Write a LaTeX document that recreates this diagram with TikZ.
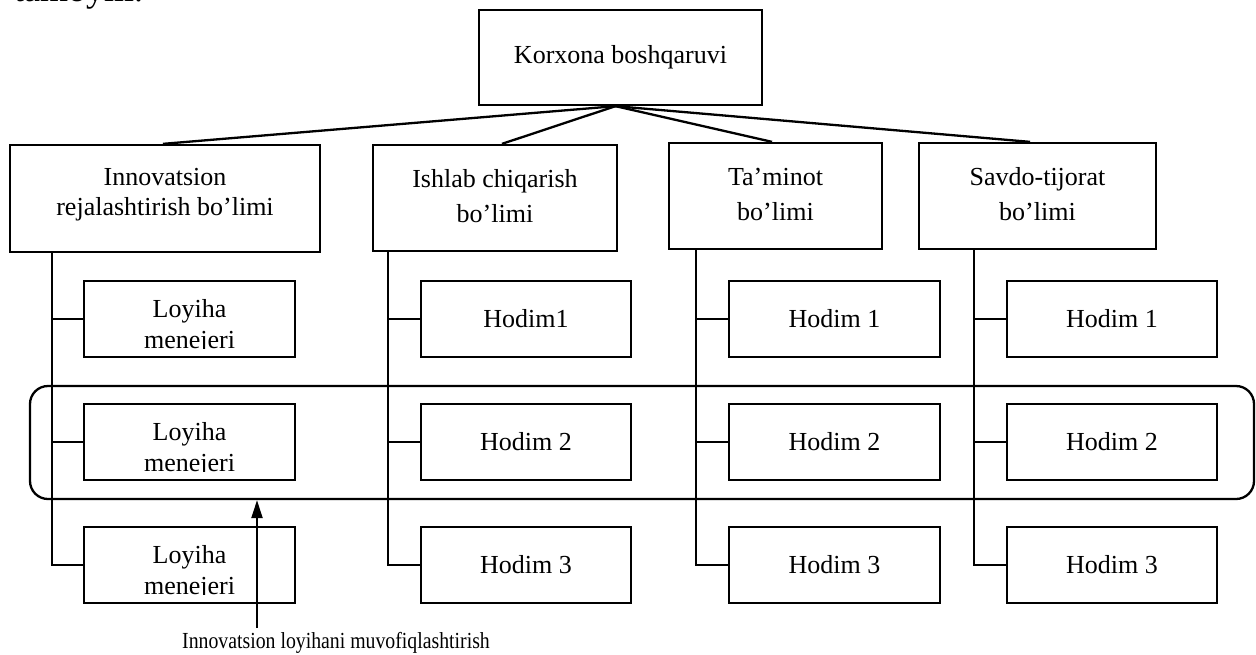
\documentclass[tikz,border=0pt]{standalone}
\usepackage{fontspec}
\setmainfont{Liberation Serif}
\usetikzlibrary{arrows.meta}
\begin{document}
\begin{tikzpicture}[x=1pt,y=-1pt,
  line width=2.3pt, line join=miter,
  box/.style={draw, rectangle, inner sep=0pt, align=center,
    font=\fontsize{26}{30}\selectfont},
  deptbox/.style={box, minimum height=106pt, font=\fontsize{26}{35}\selectfont},
  staff/.style={box, minimum height=76pt},
  mgrtext/.style={inner sep=0pt, anchor=north, align=center,
    font=\fontsize{26}{31}\selectfont},
  group/.style={draw, rectangle, rounded corners=18pt, inner sep=0pt},
  pointer/.style={-{Triangle[length=18pt,width=11pt]}}
]
\useasboundingbox (0,0) rectangle (1256,654);

% tail of the preceding line of text, cut by the page edge
\begin{scope}
  \clip (0,0) rectangle (1256,654);
  \node[anchor=base west, inner sep=0pt, font=\fontsize{36}{40}\selectfont] (prev) at (13,1) {tamoyili.};
\end{scope}

% management
\node[box, minimum width=283pt, minimum height=95pt] (top) at (620.5,57.5) {Korxona boshqaruvi};

% departments
\node[deptbox, minimum width=310pt, minimum height=107pt, font=\fontsize{26}{30}\selectfont]
  (d1) at (165,198.5) {\strut Innovatsion\\\strut rejalashtirish bo’limi\rule[-17pt]{0pt}{1pt}};
\node[deptbox, minimum width=244pt] (d2) at (495,198) {\strut Ishlab chiqarish\\\strut bo’limi};
\node[deptbox, minimum width=213pt] (d3) at (775.5,196) {\strut Ta’minot\\\strut bo’limi};
\node[deptbox, minimum width=237pt] (d4) at (1037.5,196) {\strut Savdo-tijorat\\\strut bo’limi};

% links from management to departments
\coordinate (apex) at ([xshift=-5pt]top.south);
\draw (apex) -- ([xshift=-2pt]d1.north);
\draw (apex) -- ([xshift=7pt]d2.north);
\draw (apex) -- ([xshift=-3.5pt]d3.north);
\draw (apex) -- ([xshift=-7.5pt]d4.north);

% coordination group around the second row
\node[group, minimum width=1224pt, minimum height=113pt] (grp) at (642,442.5) {};

% project managers (text cut at the lower part of each box)
\foreach \r/\y in {1/319, 2/442, 3/565} {
  \node[staff, minimum width=211pt] (m\r) at (189.5,\y) {};
  \begin{scope}
    \clip (m\r.north west) rectangle ([yshift=10pt]m\r.south east);
    \node[mgrtext] (m\r t) at ([yshift=-15pt]m\r.north) {\strut Loyiha\\\strut menejeri};
  \end{scope}
}

% staff of the other departments
\node[staff, minimum width=210pt] (a1) at (526,319) {Hodim1};
\node[staff, minimum width=210pt] (a2) at (526,442) {Hodim 2};
\node[staff, minimum width=210pt] (a3) at (526,565) {Hodim 3};
\node[staff, minimum width=211pt] (b1) at (834.5,319) {Hodim 1};
\node[staff, minimum width=211pt] (b2) at (834.5,442) {Hodim 2};
\node[staff, minimum width=211pt] (b3) at (834.5,565) {Hodim 3};
\node[staff, minimum width=210pt] (c1) at (1112,319) {Hodim 1};
\node[staff, minimum width=210pt] (c2) at (1112,442) {Hodim 2};
\node[staff, minimum width=210pt] (c3) at (1112,565) {Hodim 3};

% trunks from each department down to its staff
\coordinate (t1) at ([xshift=43pt]d1.south west);
\coordinate (t2) at ([xshift=16pt]d2.south west);
\coordinate (t3) at ([xshift=28pt]d3.south west);
\coordinate (t4) at ([xshift=56pt]d4.south west);

\draw (t1) |- (m3.west);
\draw (m1.west) -- (m1.west -| t1);
\draw (m2.west) -- (m2.west -| t1);

\draw (t2) |- (a3.west);
\draw (a1.west) -- (a1.west -| t2);
\draw (a2.west) -- (a2.west -| t2);

\draw (t3) |- (b3.west);
\draw (b1.west) -- (b1.west -| t3);
\draw (b2.west) -- (b2.west -| t3);

\draw (t4) |- (c3.west);
\draw (c1.west) -- (c1.west -| t4);
\draw (c2.west) -- (c2.west -| t4);

% caption and pointer to the group
\node[anchor=base, inner sep=0pt, font=\fontsize{23}{27}\selectfont] (lab) at (336,648)
  {\scalebox{0.86}[1]{Innovatsion loyihani muvofiqlashtirish}};
\coordinate (foot) at (257,628);
\draw[pointer] (foot) -- (foot |- grp.south);
\end{tikzpicture}
\end{document}
